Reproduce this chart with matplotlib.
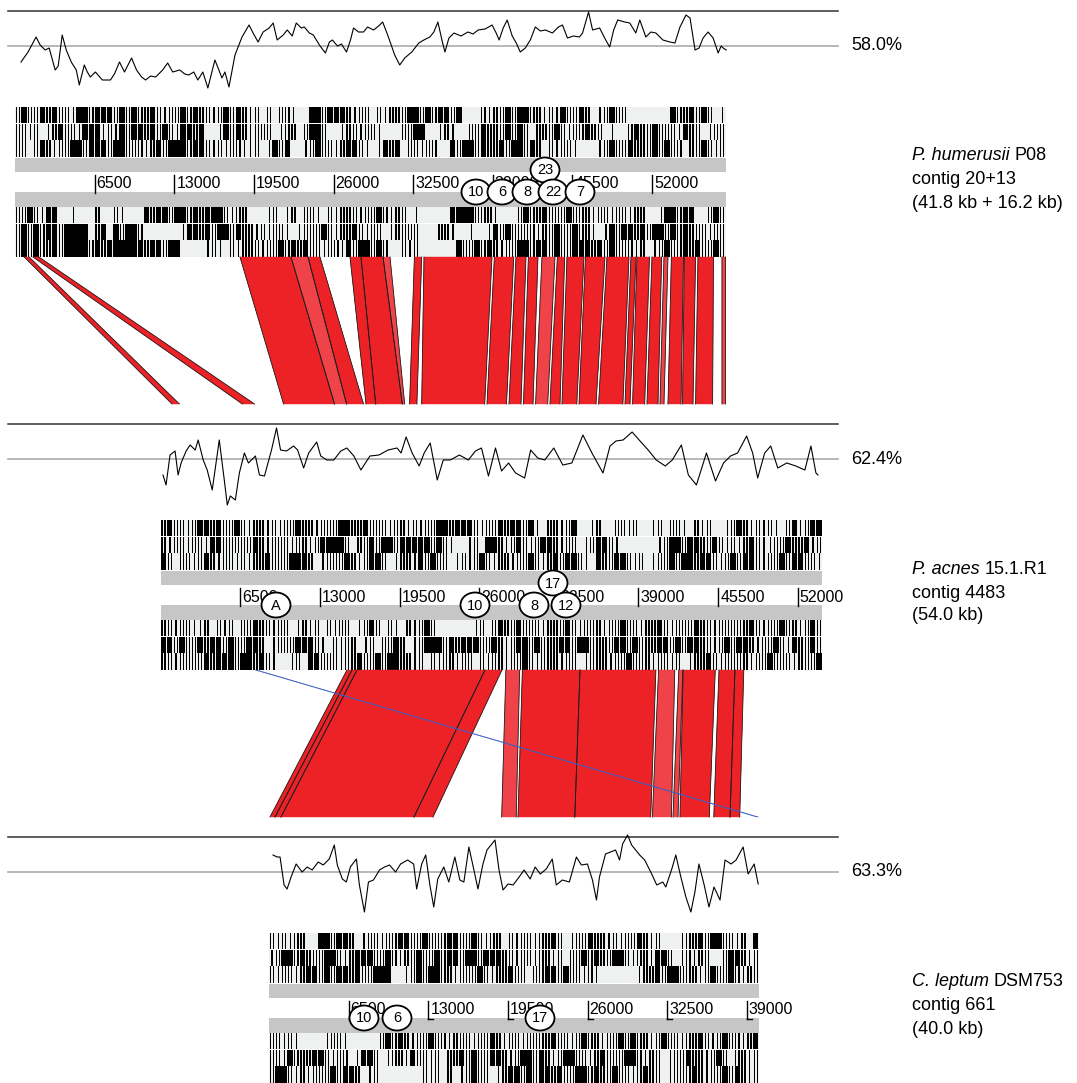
import matplotlib
matplotlib.use("Agg")
import matplotlib.pyplot as plt
import matplotlib.transforms as mtransforms
from matplotlib.patches import Ellipse, Polygon
import numpy as np

plt.rcParams["font.family"] = ["Liberation Sans", "DejaVu Sans"]

# ---------------------------------------------------------------- data
genome_len = [58000, 54000, 40000]
gc_mean = [58.0, 62.4, 63.3]
gc_label = ["58.0%", "62.4%", "63.3%"]
species = ["P. humerusii", "P. acnes", "C. leptum"]
strain = ["P08", "15.1.R1", "DSM753"]
contig = ["contig 20+13", "contig 4483", "contig 661"]
size_lab = ["(41.8 kb + 16.2 kb)", "(54.0 kb)", "(40.0 kb)"]
tick_pos = [
    [6500, 13000, 19500, 26000, 32500, 39000, 45500, 52000],
    [6500, 13000, 19500, 26000, 32500, 39000, 45500, 52000],
    [6500, 13000, 19500, 26000, 32500, 39000],
]

# GC plot (window position in bp, %GC)
gc1_pos = [492, 1066, 1722, 2050, 2460, 2788, 3280, 3526, 3854, 4182,
           4592, 5002, 5248, 5658, 5904, 6150, 6560, 7134, 7790, 8118,
           8528, 8938, 9512, 9922, 10332, 10660, 11070, 11480, 12054, 12464,
           12874, 13448, 13858, 14186, 14596, 14924, 15334, 15744, 16318, 16646,
           16892, 17138, 17466, 17958, 18532, 19106, 19434, 19844, 20254, 20746,
           21074, 21402, 21894, 22222, 22632, 22960, 23370, 23616, 24026, 24354,
           24846, 25338, 25666, 25912, 26322, 26650, 27060, 27388, 27634, 28044,
           28454, 28782, 29274, 29684, 30012, 30422, 30996, 31406, 31816, 32390,
           32964, 33374, 33866, 34194, 34522, 34850, 35096, 35424, 35834, 36408,
           36982, 37392, 37802, 38376, 38950, 39278, 39524, 39852, 40180, 40590,
           40918, 41246, 41656, 42066, 42476, 42886, 43296, 43870, 44362, 44690,
           45100, 45592, 46084, 46330, 46822, 47150, 47724, 48134, 48544, 48872,
           49200, 49774, 50184, 50676, 51004, 51496, 51906, 52316, 52890, 53464,
           53874, 54284, 54776, 55104, 55514, 55842, 56170, 56580, 56990, 57400,
           57646, 57810, 58056]
gc1_val = [50.0, 55.0, 62.5, 58.5, 56.0, 57.0, 46.0, 48.0, 63.5, 56.0,
           50.0, 46.0, 38.5, 48.5, 45.0, 42.5, 45.0, 41.0, 41.0, 44.0,
           50.0, 45.0, 52.0, 46.0, 42.5, 41.0, 43.0, 42.5, 46.0, 49.5,
           45.0, 46.0, 44.0, 43.5, 45.0, 41.0, 45.0, 37.0, 51.0, 46.0,
           42.0, 45.0, 37.5, 53.5, 62.5, 68.5, 64.5, 60.0, 65.0, 67.0,
           69.5, 61.0, 63.5, 66.0, 63.0, 69.5, 67.0, 67.5, 64.5, 63.5,
           58.5, 54.5, 60.0, 61.0, 58.0, 59.0, 55.0, 61.0, 67.0, 65.0,
           65.0, 67.5, 66.0, 68.0, 70.0, 63.5, 53.5, 48.5, 52.0, 55.0,
           59.5, 61.0, 62.5, 65.0, 70.0, 61.0, 55.0, 62.0, 64.5, 63.0,
           65.0, 64.0, 66.0, 66.5, 68.5, 64.5, 61.0, 67.0, 71.0, 63.0,
           59.5, 55.0, 57.0, 61.0, 67.5, 65.5, 66.0, 64.5, 67.5, 68.5,
           62.0, 63.0, 62.5, 64.5, 75.0, 66.0, 67.0, 62.0, 57.5, 66.0,
           71.0, 70.0, 69.5, 64.5, 71.0, 62.5, 65.0, 64.5, 61.0, 60.0,
           59.5, 67.5, 73.5, 72.0, 56.0, 57.0, 62.0, 65.0, 62.0, 54.5,
           58.0, 57.0, 56.0]

gc2_pos = [189, 435, 763, 1173, 1419, 1665, 2075, 2403, 2813, 3059,
           3469, 3797, 4207, 4781, 5191, 5437, 5683, 6093, 6421, 6831,
           7159, 7733, 8061, 8471, 9045, 9455, 9783, 10275, 10849, 11177,
           11669, 12079, 12735, 13063, 13555, 14129, 14703, 15195, 15769, 16343,
           17081, 17819, 18557, 19295, 19623, 20033, 20525, 21099, 21509, 22001,
           22575, 23067, 23641, 24379, 25117, 25691, 26183, 26757, 27331, 27823,
           28397, 28971, 29709, 30201, 30775, 31349, 32087, 32825, 33563, 34465,
           35203, 36105, 36679, 37171, 37745, 38483, 39057, 39795, 40451, 41189,
           41763, 42501, 43075, 43731, 44551, 45289, 45945, 46519, 47093, 47831,
           48323, 48733, 49307, 49799, 50373, 51111, 51849, 52587, 53079, 53489,
           53653]
gc2_val = [54.4, 49.4, 64.4, 66.4, 54.4, 60.4, 66.4, 69.4, 66.9, 71.9,
           61.9, 56.9, 46.9, 71.9, 51.9, 39.4, 43.9, 41.9, 55.4, 65.4,
           60.4, 63.9, 54.4, 53.9, 66.9, 77.9, 66.9, 66.4, 68.9, 66.9,
           57.9, 65.4, 70.9, 63.9, 61.9, 61.9, 66.4, 67.9, 63.9, 56.9,
           63.9, 64.4, 66.9, 67.9, 65.4, 73.4, 65.4, 58.9, 65.4, 70.4,
           51.9, 61.9, 61.9, 64.4, 61.9, 66.4, 67.9, 53.9, 67.9, 56.4,
           60.4, 55.4, 52.9, 66.9, 62.9, 61.9, 67.9, 59.4, 60.4, 74.4,
           65.4, 55.4, 68.9, 71.4, 71.9, 75.9, 71.9, 66.9, 61.9, 58.9,
           61.9, 69.4, 54.4, 49.4, 65.4, 51.4, 60.4, 63.9, 65.4, 73.9,
           65.4, 52.9, 65.4, 68.9, 57.9, 60.4, 58.9, 56.9, 68.9, 55.4,
           54.4]

gc3_pos = [328, 656, 902, 1230, 1476, 1804, 2214, 2706, 3116, 3526,
           4018, 4428, 4920, 5330, 5576, 5986, 6314, 6642, 7134, 7380,
           7790, 8118, 8528, 9020, 9430, 9840, 10332, 10742, 11316, 11808,
           12054, 12464, 12792, 13120, 13448, 13776, 14268, 14678, 15170, 15580,
           15908, 16318, 16728, 17056, 17466, 17794, 18450, 18778, 19106, 19516,
           19926, 20418, 20828, 21320, 21730, 22140, 22632, 23124, 23452, 23944,
           24518, 25092, 25502, 25994, 26404, 26732, 26978, 27470, 27880, 28290,
           28618, 28864, 29274, 29602, 30258, 30668, 31242, 31652, 32144, 32390,
           32882, 33210, 33620, 34030, 34440, 34768, 35096, 35506, 35916, 36326,
           36818, 37228, 37720, 38130, 38704, 39114, 39606, 39934]
gc3_val = [71.8, 70.8, 70.8, 56.8, 54.8, 60.8, 67.3, 63.3, 65.8, 64.3,
           68.3, 66.8, 69.8, 76.8, 66.8, 59.8, 58.3, 65.8, 69.8, 56.8,
           43.3, 58.3, 59.3, 64.3, 65.8, 66.8, 63.3, 67.3, 69.3, 67.3,
           54.8, 67.3, 71.8, 57.3, 45.8, 59.8, 65.8, 58.3, 70.8, 59.3,
           58.3, 75.8, 64.3, 54.8, 67.3, 74.3, 79.3, 64.3, 54.3, 57.3,
           56.8, 60.8, 64.3, 59.8, 65.8, 62.3, 64.8, 69.8, 56.8, 59.3,
           58.3, 70.8, 66.8, 67.3, 59.3, 49.3, 60.8, 72.3, 73.3, 74.3,
           69.3, 77.3, 81.8, 76.8, 71.8, 69.3, 62.3, 56.8, 58.3, 55.8,
           64.8, 71.8, 60.8, 50.8, 43.3, 53.3, 67.3, 57.3, 45.8, 55.8,
           49.3, 69.3, 67.3, 69.3, 75.8, 62.3, 67.3, 57.3]

# stop codons in the six frames, one character per 500 bp:
# '#' solid run of stops, '|' two stops, ':' one stop, '.' none
stops1 = [
    "|#||#|#||:" "##|###|#|#" "||#|:||#|#||:|" "#|#" "|:|.|" ".||:" ".." "##|###"
    "|:||.|:|||" "##|#|##|#" "..." "|:||" "#|##||" ":|:" "#||#|" ".:" "|#||"
    "......." "#||#|#|" ".:",
    "||:|" ".:" "|#||:" "###" ":|:" "#|##" "|#|#|:" "##|#" "..:" "#|#" "|:||"
    "|.:||.|" "##|" "..:" "||:||:" "..." "||" "##" "..:" "|:" ".." "||#|||#|"
    "#|" ".|" "||#|:||#||.:..|#||#|||:#||.:||",
    "||.|#|:||" "##|###|##|" "||:|#|" "###|##|" ":|:|" "|::|.:" "#|#" "..:"
    "|#||:|" "##|" ":.:" "#|#" "." "||:||" ".." "#|##|#||#|##|#|" "." "|:||:"
    "...:" "|#||#|||#|#||" "." "||#|:|",
    "||#|:" "##" "..:..." "|" ".." "|:" "..." "#|##|##|#|###" "|:||" "...:"
    "|.:|.||:.|:|" "||:||#|:|" "|" ".:....." "####" "|||:" "..." "|#||#|||#||"
    "|:||:||:||" "..:" "##|##" ".." "|#|",
    "|#|#|" "##|###" "#.|#." "#|##|" "......:" "##|#|##|#|" "|:|:||" ":.:|"
    "||#|:||#|:||" ".:|" "|||" "..." "||:" "..:..:" "#|#||" "||:|" "|#||#||"
    ":.:" "#|##|#|##|#|#|" "||:||",
    "|#|#||#|#" "##" "#|#|#" "####" "#|##|##" "...." ":|:.|:|" "||:||" "#|#|#"
    "||:||:" "#|##|#|" ".." "|:|" "......" "#||#|#" "|:||" "##|##" "|#||#"
    "##|#" "|#|||" ":|.:" "|#||#|#||#|",
]
stops2 = [
    "|#||:|" "##|#||#" "|:||:|:" "||#||:||" "|##||#|" "||:||:|" ":||##|#"
    "##|:||#|" "##|#:.|" "|:|#..:" "|..||:|." ".:|.||:" ".|:|..:" "|#|:|:|:" ".|#:|##",
    "|:||:|" "|:##|||" "||#|:||" "|:||:|##" "##|.||#" "|##|###" "##|#|:."
    ".:|.##|:" "|#|:|##" "|:||.:|" "##|:...." "..:|##|" "##||#|:" "|:|#|::|" "|#||#:|",
    "#|.||:" "|#|:||:" "|:||#||" "|###|.:|" "||#|:|#" "#|.:||:" "#|#||.:"
    "|:|#|:||" ":||#|:|" "#|##|:." "#||##|:|" ".:||#|#" "#|##|:|" "#|##|:||" "#|##||:",
    "||:||:" ":|.|:|." "||#||:|" "|.:|:|.|" ":||.:|#" "|.|:.|:" "|#|...."
    "..:|.|#|" "|#|||:|" "||#|:||" "|:||#||:" "||#|:||" "|#||:||" "|||#|:||" "#||:|#|",
    "##|#||" "#|##|#|" "|##|.:|" "||###|:." "|:||.:|" ".||#|.:" "|###|#|"
    "###||#|:" "|##|#||" "|##|##|" "|||##|#|" "||##|#|" "##||:|#" "|##|:||#" "|:#||#|",
    "||:|||" "|#|###|" "##|#|:." ".:|.##||" "|:||#||" "#|##||:" "|.|:||:"
    "||.|:||:" "||#|:||" "|:||.:|" "||:||#||" "|:||:|." ":||#|:|" "|||:||#|" "||:|||#",
]
stops3 = [
    "|:|:||.." "##|##|.:||:|" "|##||#|||##|" "|#|:||.|:||:" "||#|.:||#||:" "|:||#|:|...:" "||#|##||:|.#",
    ":|##|#||" "|##|:|###||#" "|:||#||#|##|" "##|###||:||:" "||:|.||#|#||" "##|:||:##|.:" "|:||..|##|:|",
    "|:||:|##" "|#|##|#||###" "..:|#|##||:|" "||#|:||#||.|" "|##|#||:|:.." "....:||#|##|" "||:|#||#|:||",
    "||:|:..." ".:||:.....|#" "|#|:||#||:||" "|:||#|:||:||" "||#||:|#||:|" "|#|#||:|#||:" "||#|:|#||:|#",
    "||:#|||#" "#|:||.:##|.:" "||:#||:|.||#" "|#||##|:|##|" "#|:|##||:|#|" "||##|:||.:||" "#||:|#|.||:|",
    "|##|:|:|" "||#|##|.:|.." ".....|:|.|.:" "|#||.:|##|#|" "##|#||##|#||" "#||:|#||.:||" "|#|:||#|#|:|",
]

# circled gene-cluster labels: text, position (bp), upper/lower slot
marks1 = ["23", "10", "6", "8", "22", "7"]
marks1_pos = [43265, 37632, 39754, 41795, 43917, 46121]
marks1_slot = [0, 1, 1, 1, 1, 1]
marks2 = ["17", "A", "10", "8", "12"]
marks2_pos = [32023, 9412, 25656, 30472, 33085]
marks2_slot = [0, 1, 1, 1, 1]
marks3 = ["10", "6", "17"]
marks3_pos = [7755, 10449, 22122]
marks3_slot = [1, 1, 1]

# comparisons: (start, end) in upper genome, (start, end) in lower genome
cmp12_top = [(751, 1151), (1469, 1943), (18367, 22530), (22530, 23918), (23918, 24897),
             (27346, 28244), (28244, 30040), (30040, 30611), (32603, 33199), (33387, 38938),
             (39133, 40717), (40897, 41713), (41909, 42692), (43019, 44080), (44276, 44872),
             (45060, 46447), (46570, 48162), (48325, 50121), (50284, 50692), (50774, 51794),
             (51998, 52790), (52978, 53304), (53582, 54570), (54643, 55558), (55753, 57019),
             (57712, 58000)]
cmp12_bot = [(922, 1526), (6669, 7657), (10032, 14187), (14187, 15175), (15175, 16555),
             (16759, 17550), (17550, 19722), (19722, 19918), (20318, 20914), (21305, 26448),
             (26636, 28228), (28432, 29411), (29615, 30391), (30603, 31591), (31779, 32595),
             (32758, 33966), (34146, 35534), (35746, 37729), (37901, 38309), (38521, 39509),
             (39697, 40595), (40758, 41084), (41411, 42472), (42594, 43452), (43664, 45052),
             (45819, 46113)]
cmp12_light = [0, 0, 0, 1, 0, 0, 0, 1, 0, 0, 0, 0, 0, 1, 0, 0, 0, 0, 0, 0, 0, 1, 0, 0, 0, 1]

cmp23_top = [(15208, 15616), (15616, 16024), (16024, 26473), (26473, 27860), (28179, 29305),
             (29526, 34228), (34228, 40424), (40644, 41966), (42293, 42620), (42652, 45272),
             (45574, 46880), (46880, 47599)]
cmp23_bot = [(82, 490), (490, 980), (980, 11836), (11836, 13387), (18995, 20179),
             (20326, 24963), (24963, 31158), (31297, 32848), (32978, 33386), (33549, 35942),
             (36309, 37632), (37632, 38424)]
cmp23_light = [0, 0, 0, 0, 1, 0, 0, 1, 1, 0, 0, 0]
inv23_top = [(7690, 7853)]
inv23_bot = [(39803, 39966)]

# ---------------------------------------------------------------- layout (pixels)
FIG_W, FIG_H = 1077, 1083
PITCH = 413
SCALE = 0.01225            # px per bp
ORIGIN = [15, 160.7, 269]  # x pixel of bp 0 in each panel
BIN = 500
GC_MID, GC_PX = 35, 2.0
ROW_TOP = [96, 112.67, 129.33, 196, 212.67, 229.33]
ROW_H = 16.2
GRAY = [(147, 14), (181, 14.5)]
CMP_Y = (246, 393)
MARK_Y = [159, 181]
RED, RED_LIGHT = "#ED2227", "#F04249"


def stop_segments(row):
    segs = []
    for i, ch in enumerate(row):
        x0 = i * BIN
        if ch == "#":
            segs.append((x0, 0.9 * BIN))
        elif ch == "|":
            segs.append((x0 + 0.12 * BIN, 0.2 * BIN))
            segs.append((x0 + 0.6 * BIN, 0.22 * BIN))
        elif ch == ":":
            segs.append((x0 + 0.4 * BIN, 0.2 * BIN))
    return segs


def draw_panel(ax, k, gc_pos, gc_val, stops, marks, marks_pos, marks_slot, foot=False):
    L = genome_len[k]
    xa = 8 / FIG_W
    xb = 838 / FIG_W
    ax.axhline(0, xmin=xa, xmax=xb, color="#333333", lw=1.1)
    ax.axhline(GC_MID, xmin=xa, xmax=xb, color="#AAAAAA", lw=1.2)
    gy = GC_MID - (np.array(gc_val) - gc_mean[k]) * GC_PX
    ax.plot(gc_pos, gy, color="black", lw=0.8)

    for y, row in zip(ROW_TOP, stops):
        ax.broken_barh([(0, L)], (y, ROW_H), facecolors="#EFF0F0")
        ax.broken_barh(stop_segments(row), (y, ROW_H), facecolors="black")
    for y, h in GRAY:
        ax.broken_barh([(0, L)], (y, h), facecolors="#C6C6C6")

    for t in tick_pos[k]:
        ax.plot([t, t], [164, 182], color="black", lw=1.0)
        if foot:
            ax.plot([t, t + 5 / SCALE], [182, 182], color="black", lw=1.0)
        ax.annotate(str(t), xy=(t, 173), xytext=(1.5, 0), textcoords="offset points",
                    va="center", ha="left", fontsize=11.5)

    for lab, pos, slot in zip(marks, marks_pos, marks_slot):
        ax.add_patch(Ellipse((pos, MARK_Y[slot]), width=29 / SCALE, height=25,
                             facecolor="white", edgecolor="black", lw=1.3, zorder=5))
        ax.text(pos, MARK_Y[slot] + 0.5, lab, ha="center", va="center", fontsize=10.5, zorder=6)

    tr = mtransforms.blended_transform_factory(ax.figure.transFigure, ax.transData)
    ax.text(851 / FIG_W, GC_MID, gc_label[k], transform=tr, va="center", fontsize=13)
    t1 = ax.text(912 / FIG_W, 145, species[k], transform=tr, va="center",
                 fontsize=13, style="italic")
    ax.annotate(strain[k], xy=(1, 0), xycoords=t1, xytext=(3.5, 0),
                textcoords="offset points", va="bottom", fontsize=13)
    ax.text(912 / FIG_W, 169, contig[k], transform=tr, va="center", fontsize=13)
    ax.text(912 / FIG_W, 192, size_lab[k], transform=tr, va="center", fontsize=13)


def draw_comparison(ax_up, ax_low, tops, bots, light, color=None):
    inv = ax_up.transData.inverted()
    y0, y1 = CMP_Y
    for i, ((t1, t2), (b1, b2)) in enumerate(zip(tops, bots)):
        disp = ax_low.transData.transform([(b1, 0), (b2, 0)])
        xb = inv.transform(disp)[:, 0]
        fc = color if color else (RED_LIGHT if light[i] else RED)
        ax_up.add_patch(Polygon([(t1, y0), (t2, y0), (xb[1], y1), (xb[0], y1)],
                                closed=True, facecolor=fc, edgecolor=fc, lw=0.3,
                                zorder=2 if color is None else 4))
        if color is None:
            ax_up.plot([t1, xb[0]], [y0, y1], color="#1E1E1E", lw=0.6, zorder=3)
            ax_up.plot([t2, xb[1]], [y0, y1], color="#1E1E1E", lw=0.6, zorder=3)


fig = plt.figure(figsize=(FIG_W / 100, FIG_H / 100), dpi=100)
axes = []
for k in range(3):
    top = PITCH * k
    ax = fig.add_axes([0, 1 - (top + PITCH) / FIG_H, 1, PITCH / FIG_H])
    ax.set_xlim(-ORIGIN[k] / SCALE, (FIG_W - ORIGIN[k]) / SCALE)
    ax.set_ylim(402, -11)
    ax.axis("off")
    axes.append(ax)

draw_panel(axes[0], 0, gc1_pos, gc1_val, stops1, marks1, marks1_pos, marks1_slot)
draw_panel(axes[1], 1, gc2_pos, gc2_val, stops2, marks2, marks2_pos, marks2_slot)
draw_panel(axes[2], 2, gc3_pos, gc3_val, stops3, marks3, marks3_pos, marks3_slot, foot=True)

draw_comparison(axes[0], axes[1], cmp12_top, cmp12_bot, cmp12_light)
draw_comparison(axes[1], axes[2], cmp23_top, cmp23_bot, cmp23_light)
draw_comparison(axes[1], axes[2], inv23_top, inv23_bot, [0], color="#3D5EC6")

fig.savefig("out.png", dpi=100)
